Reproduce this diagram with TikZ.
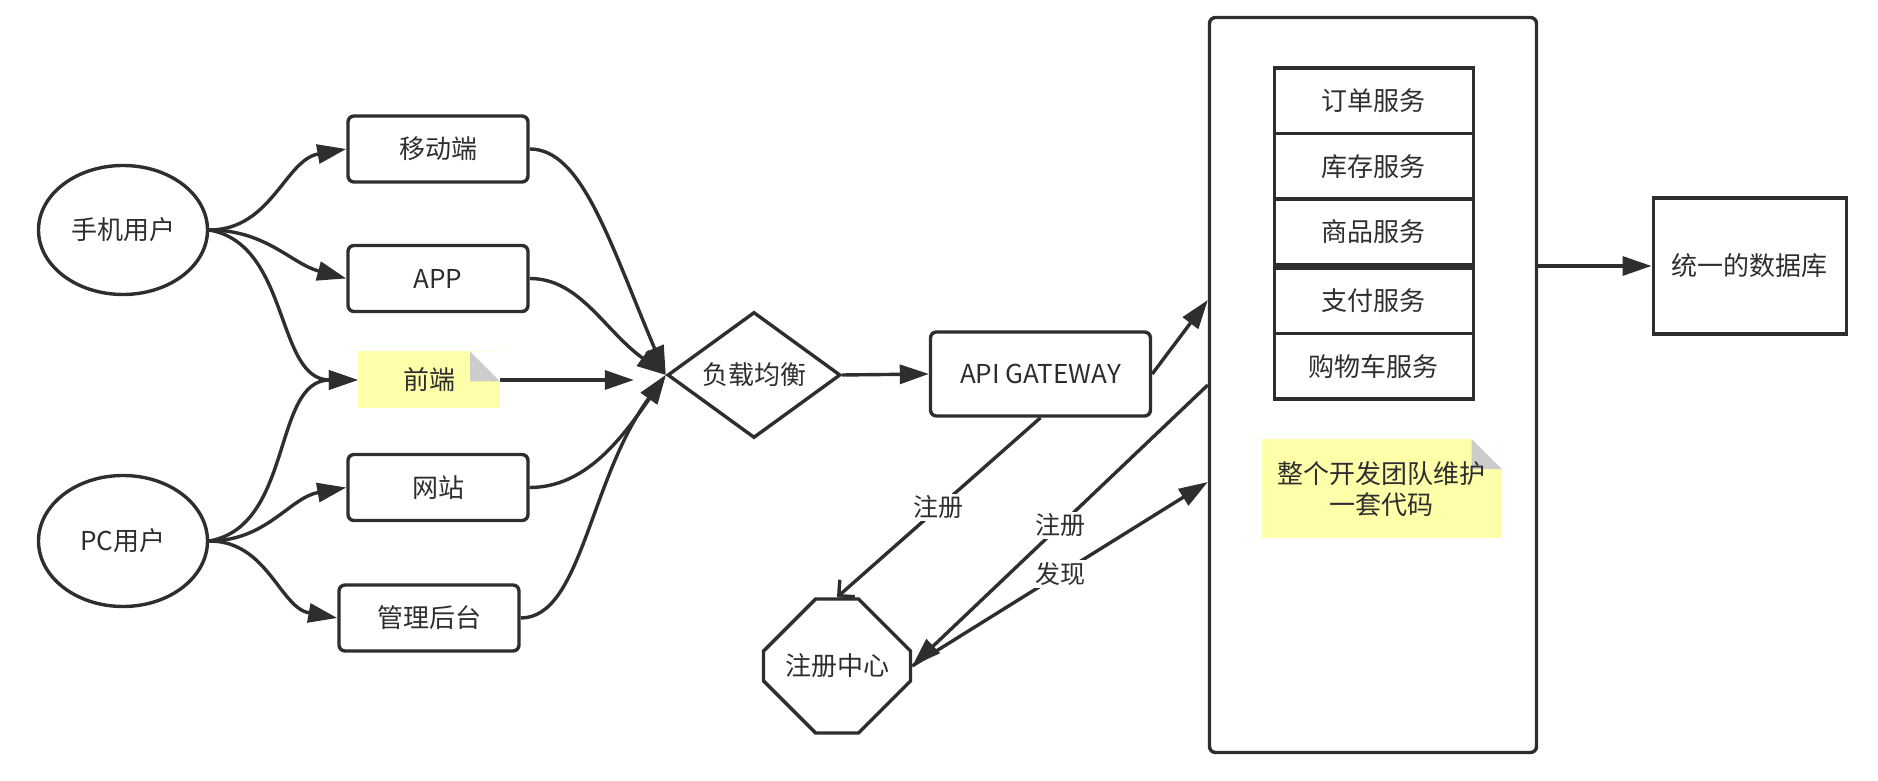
\documentclass[tikz,border=0pt]{standalone}
\usepackage{fontspec}
\setmainfont{Noto Sans CJK SC}
\usetikzlibrary{arrows.meta,positioning,shapes.geometric,shapes.misc}
\definecolor{InkGray}{HTML}{2E2E2E}
\definecolor{NoteYellow}{HTML}{FFFFAA}
\definecolor{FoldGray}{HTML}{CCCCCC}

\begin{document}
\begin{tikzpicture}[x=1pt,y=1pt,>={Triangle[length=29pt,width=19pt]},
  every node/.style={font=\fontsize{26}{31}\selectfont,text=InkGray,align=center},
  conn/.style={draw=InkGray,line width=3.4pt},
  user/.style={ellipse,draw=InkGray,line width=3.4pt,minimum width=169pt,
    minimum height=129pt,inner sep=0pt},
  client/.style={draw=InkGray,line width=3.4pt,rounded corners=6pt,
    minimum width=180pt,minimum height=66pt,inner sep=0pt},
  svc/.style={draw=InkGray,line width=3.4pt,minimum width=199pt,
    minimum height=65.5pt,inner sep=0pt},
  note/.style={fill=NoteYellow,inner sep=0pt,path picture={
    \fill[white] ([xshift=-30pt]path picture bounding box.north east)
      -- (path picture bounding box.north east)
      -- ([yshift=-30pt]path picture bounding box.north east) -- cycle;
    \fill[FoldGray] ([xshift=-30pt]path picture bounding box.north east)
      -- ([xshift=-30pt,yshift=-30pt]path picture bounding box.north east)
      -- ([yshift=-30pt]path picture bounding box.north east) -- cycle;}},
  tag/.style={fill=white,inner sep=2pt,font=\fontsize{25}{30}\selectfont}]
  \useasboundingbox (0,0) rectangle (1878,781);

  % users and clients
  \node[user] (phone) at (123,551) {手机用户};
  \node[user,minimum height=131pt] (pc) at (123,240) {PC用户};
  \node[client] (mobile) at (438,632) {移动端};
  \node[client] (app) at (438,502.5) {APP};
  \node[note,minimum width=142pt,minimum height=57pt] (front) at (429,401) {前端};
  \node[client] (web) at (438,293.5) {网站};
  \node[client] (admin) at (429,163) {管理后台};

  % gateway and registry
  \node[diamond,aspect=1.37,draw=InkGray,line width=3.4pt,inner sep=0pt,
    minimum width=173pt,minimum height=126pt] (lb) at (754,406) {负载均衡};
  \node[client,minimum width=220pt,minimum height=84pt] (gw) at (1040.5,407) {API GATEWAY};
  \node[chamfered rectangle,chamfered rectangle xsep=39pt,chamfered rectangle ysep=40pt,
    draw=InkGray,line width=3.4pt,inner sep=0pt,minimum width=147pt,
    minimum height=134pt] (reg) at (837,115) {注册中心};

  % monolith
  \node[draw=InkGray,line width=3.4pt,rounded corners=6pt,minimum width=327pt,
    minimum height=735pt] (box) at (1373,396) {};
  \node[svc] (order) at (1373.8,680.25) {订单服务};
  \node[svc,below=-3.4pt of order] (stock) {库存服务};
  \node[svc,below=-3.4pt of stock] (goods) {商品服务};
  \node[svc,below=0pt of goods] (pay) {支付服务};
  \node[svc,below=-3.4pt of pay] (cart) {购物车服务};
  \node[note,minimum width=240pt,minimum height=99pt] (team) at (1381.6,292.4)
    {整个开发团队维护\\一套代码};
  \node[draw=InkGray,line width=3.4pt,minimum width=193pt,minimum height=136pt]
    (db) at (1749.7,515) {统一的数据库};

  \coordinate (gwin) at ([yshift=85pt]box.west);
  \coordinate (findin) at ([yshift=-97pt]box.west);

  % connectors
  \draw[conn,->] (phone.east) to[out=0,in=190] (mobile.west);
  \draw[conn,->] (phone.east) to[out=0,in=165] (app.west);
  \draw[conn,->] (phone.east) to[out=-10,in=180] (front.west);
  \draw[conn,->] (pc.east) to[out=10,in=180] (front.west);
  \draw[conn,->] (pc.east) to[out=0,in=190] (web.west);
  \draw[conn,->] (pc.east) to[out=0,in=170] (admin.west);

  \draw[conn,->] (mobile.east) .. controls +(52,0) and +(-57,135) .. (lb.west);
  \draw[conn,->] (app.east) .. controls +(50,0) and +(-62,45) .. (lb.west);
  \draw[conn,->,shorten >=32pt] (front.east) -- (front.east -| lb.west);
  \draw[conn,->] (web.east) .. controls +(55,0) and +(-45,-65) .. (lb.west);
  \draw[conn,->] (admin.east) .. controls +(61,0) and +(-77,-105) .. (lb.west);

  \draw[conn,->] (lb.east) -- (gw.west);
  \draw[conn,->] (gw.east) -- (gwin);
  \draw[conn,-{Straight Barb[angle=90:16pt]}] (gw.south) -- node[tag] {注册} (reg.north);
  \draw[conn,->] (box.west) -- node[tag] {注册} (reg.east);
  \draw[conn,->] (reg.east) -- node[tag] {发现} (findin);
  \draw[conn,->] (box.east |- db.west) -- (db.west);
\end{tikzpicture}
\end{document}
